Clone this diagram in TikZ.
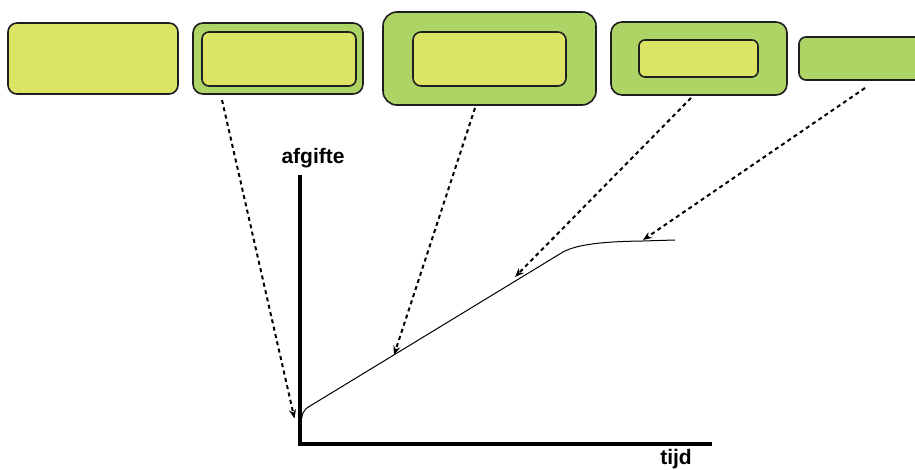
\documentclass[tikz,border=0pt]{standalone}
\usepackage{fontspec}
\setmainfont{Liberation Sans}
\usetikzlibrary{arrows.meta}
\definecolor{yel}{HTML}{DCE466}
\definecolor{grn}{HTML}{AED466}
\definecolor{edge}{HTML}{1E1E1E}
\tikzset{
  box/.style={draw=edge, line width=1.6pt, rounded corners=#1, inner sep=0pt},
  box/.default=9pt,
  ybox/.style={box=#1, fill=yel},
  ybox/.default=9pt,
  gbox/.style={box=#1, fill=grn},
  gbox/.default=10pt,
  pointer/.style={line width=2pt, dash pattern=on 4pt off 3.5pt,
    -{Stealth[length=9pt,width=7pt,inset=3pt]}},
  axis/.style={line width=4.5pt, line join=miter},
  curve/.style={line width=1pt},
  lbl/.style={font=\fontsize{21}{24}\selectfont\bfseries, inner sep=0pt}
}
\begin{document}
\begin{tikzpicture}[x=1pt, y=-1pt]
\clip (0,0) rectangle (915,470);
\fill[white] (0,0) rectangle (915,470);
% boxes
\node[ybox, minimum width=170pt, minimum height=71pt] (b1) at (93,58.5) {};
\node[gbox, minimum width=170pt, minimum height=71pt] (b2) at (278,58.5) {};
\node[ybox=7pt, minimum width=154pt, minimum height=54pt] (b2i) at (279,59) {};
\node[gbox=14pt, minimum width=213pt, minimum height=93pt] (b3) at (489.5,58.5) {};
\node[ybox=8pt, minimum width=153pt, minimum height=54pt] (b3i) at (489.5,59) {};
\node[gbox=11pt, minimum width=176pt, minimum height=73pt] (b4) at (699,58.5) {};
\node[ybox=6pt, minimum width=119pt, minimum height=37pt] (b4i) at (698.5,58.5) {};
\node[gbox=7pt, minimum width=140pt, minimum height=43pt] (b5) at (869,58.5) {};
% axes
\draw[axis] (300,175) -- (300,444) -- (712,444);
\node[lbl] (ylab) at (313,158) {afgifte};
\node[lbl] (xlab) at (676,459) {tijd};
% release curve
\draw[curve] (301,428) .. controls (301,413) and (304,409) .. (310,406)
  -- (563,252) .. controls (578,244) and (605,241.5) .. (643,241) -- (675,240);
% arrow endpoints
\coordinate (s1) at (222,100);
\coordinate (t1) at (294.5,418.5);
\coordinate (s2) at (475,108);
\coordinate (t2) at (394,355);
\coordinate (s3) at (691,98);
\coordinate (t3) at (515,277);
\coordinate (s4) at (865,88);
\coordinate (t4) at (643,240);
\draw[pointer] (s1) -- (t1);
\draw[pointer] (s2) -- (t2);
\draw[pointer] (s3) -- (t3);
\draw[pointer] (s4) -- (t4);
\end{tikzpicture}
\end{document}
